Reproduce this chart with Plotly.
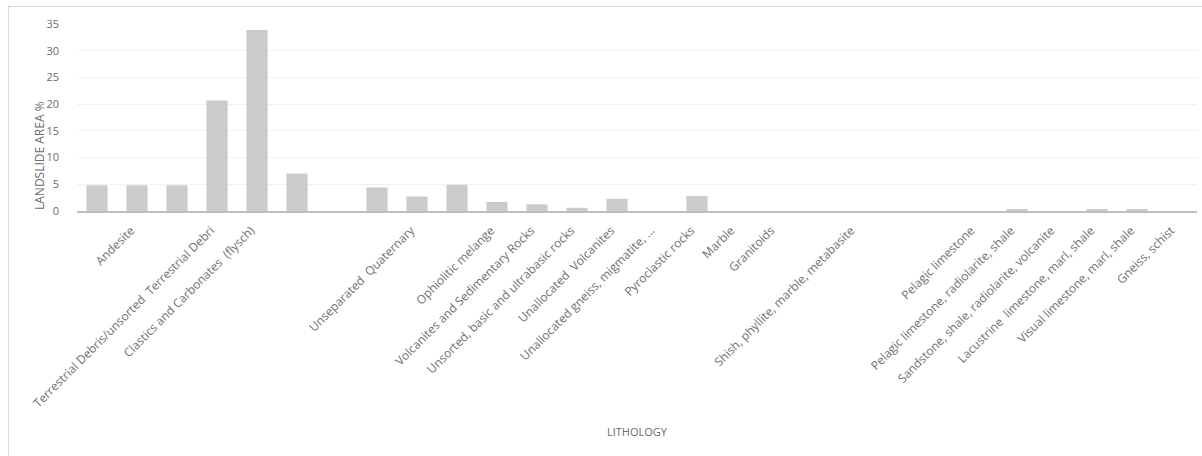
import plotly.graph_objects as go

# Data
categories = [
    "", "Andesite", "", "Terrestrial Debris/unsorted  Terrestrial Debri",
    "Clastics and Carbonates  (flysch)", "", "", "", "Unseparated  Quaternary", "",
    "Ophiolitic melange", "Volcanites and Sedimentary Rocks",
    "Unsorted, basic and ultrabasic rocks", "Unallocated  Volcanites",
    "Unallocated gneiss, migmatite, ...", "Pyroclastic rocks", "Marble", "Granitoids", "",
    "Shish, phyllite, marble, metabasite", "", "", "Pelagic limestone",
    "Pelagic limestone, radiolarite, shale", "Sandstone, shale, radiolarite, volcanite",
    "Lacustrine  limestone, marl, shale", "Visual limestone, marl, shale", "Gneiss, schist",
]
landslide_area_pct = [
    4.8, 4.8, 4.8, 20.7, 33.9, 7.0, 0, 4.4, 2.7, 4.9,
    1.7, 1.25, 0.6, 2.3, 0, 2.8, 0, 0, 0, 0,
    0, 0, 0, 0.35, 0, 0.3, 0.3, 0,
]
y_ticks = [0, 5, 10, 15, 20, 25, 30, 35]

positions = list(range(1, len(categories) + 1))

W, H = 1202, 456
ML, MR, MT, MB = 77, 5, 24, 245
pw, ph = W - ML - MR, H - MT - MB

def px_to_paper_x(px):
    return (px - ML) / pw

def px_to_paper_y(py):
    return (H - MB - py) / ph

fig = go.Figure()
fig.add_trace(go.Bar(
    x=positions, y=landslide_area_pct,
    marker=dict(color="#cbcbcb", line=dict(width=0)),
    width=0.53,
))

font_family = "Open Sans, Liberation Sans, sans-serif"
fig.update_layout(
    width=W, height=H,
    margin=dict(l=ML, r=MR, t=MT, b=MB, autoexpand=False),
    paper_bgcolor="white", plot_bgcolor="white",
    showlegend=False,
    font=dict(family=font_family, color="#6b6b6b", size=11),
    xaxis=dict(
        range=[0.5, len(categories) + 0.5], automargin=False,
        tickmode="array", tickvals=positions, ticktext=categories,
        tickangle=-45, showgrid=False, showline=True, linecolor="#bdbdbd",
        linewidth=1.5, ticks="", zeroline=False,
        ticklabelstandoff=6, ticklabelshift=-6,
        tickfont=dict(size=12, color="#707070"),
    ),
    yaxis=dict(
        range=[0, 35], tickmode="array", tickvals=y_ticks, automargin=False,
        showgrid=True, gridcolor="#f0f0f0", gridwidth=1, zeroline=False,
        showline=False, ticks="", ticklabelstandoff=17,
        tickfont=dict(size=11, color="#6b6b6b"),
    ),
    annotations=[
        dict(text="LANDSLIDE AREA %", xref="paper", yref="paper",
             x=px_to_paper_x(39), y=px_to_paper_y(156), textangle=-90,
             showarrow=False, font=dict(size=12, color="#6b6b6b"),
             xanchor="center", yanchor="middle"),
        dict(text="LITHOLOGY", xref="paper", yref="paper",
             x=px_to_paper_x(637), y=px_to_paper_y(432),
             showarrow=False, font=dict(size=11, color="#6b6b6b"),
             xanchor="center", yanchor="middle"),
    ],
    shapes=[
        dict(type="line", xref="paper", yref="paper",
             x0=px_to_paper_x(8), x1=px_to_paper_x(W + 5),
             y0=px_to_paper_y(6.5), y1=px_to_paper_y(6.5),
             line=dict(color="#d9d9d9", width=1)),
        dict(type="line", xref="paper", yref="paper",
             x0=px_to_paper_x(8.5), x1=px_to_paper_x(8.5),
             y0=px_to_paper_y(6), y1=px_to_paper_y(H + 5),
             line=dict(color="#d9d9d9", width=1)),
    ],
)

fig.write_html(
    "out.html",
    config={"displayModeBar": False},
    post_script="document.body.style.margin='0px';document.body.style.padding='0px';",
)
